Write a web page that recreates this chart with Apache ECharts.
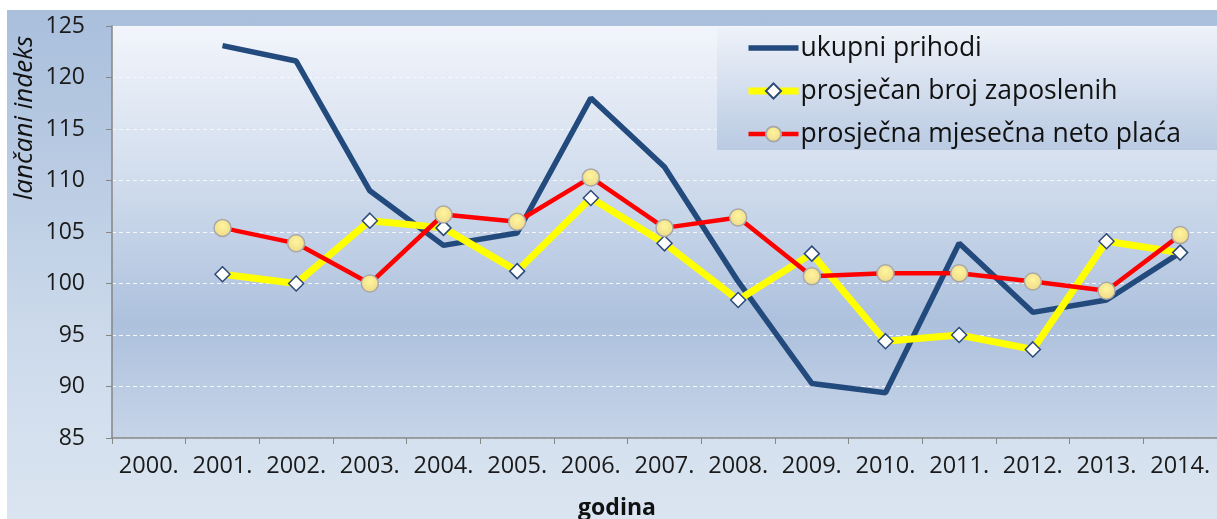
<!DOCTYPE html>
<html>
<head>
<meta charset="utf-8">
<script src="https://cdn.jsdelivr.net/npm/echarts@6/dist/echarts.min.js"></script>
<style>
  html, body { margin: 0; padding: 0; background: #fff; }
  #bg { position: absolute; left: 7px; top: 10px; width: 1210px; height: 509px;
        background: linear-gradient(180deg, #a9bfdc 0%, #bccde4 35%, #cfdcec 70%, #dbe5f1 100%); }
  #chart { position: absolute; left: 0; top: 0; width: 1217px; height: 519px; }
</style>
</head>
<body>
<div id="bg"></div>
<div id="chart"></div>
<script>
var years = ['2000.', '2001.', '2002.', '2003.', '2004.', '2005.', '2006.', '2007.',
  '2008.', '2009.', '2010.', '2011.', '2012.', '2013.', '2014.']
var ukupniPrihodi = [null, 123.1, 121.6, 109.0, 103.7, 104.9, 118.0, 111.3, 100.2, 90.3, 89.4, 103.9, 97.2, 98.4, 103.0]
var brojZaposlenih = [null, 100.9, 100.0, 106.1, 105.4, 101.2, 108.3, 103.9, 98.4, 102.9, 94.4, 95.0, 93.6, 104.1, 103.0]
var netoPlaca = [null, 105.4, 103.9, 100.0, 106.7, 106.0, 110.3, 105.4, 106.4, 100.7, 101.0, 101.0, 100.2, 99.3, 104.7]

var font = 'Open Sans'
var myChart = echarts.init(document.getElementById('chart'))
var option = {
  animation: false,
  backgroundColor: 'transparent',
  grid: {
    left: 112,
    right: 0,
    top: 26,
    bottom: 81,
    show: true,
    borderWidth: 0,
    backgroundColor: {
      type: 'linear', x: 0, y: 0, x2: 0, y2: 1,
      colorStops: [
        { offset: 0, color: '#f2f5fb' },
        { offset: 0.35, color: '#d3deee' },
        { offset: 0.72, color: '#adc1dd' },
        { offset: 1, color: '#c6d4e8' }
      ]
    }
  },
  legend: {
    orient: 'vertical',
    left: 717,
    top: 27,
    padding: [6, 80, 1, 28],
    itemWidth: 50,
    itemHeight: 19,
    itemGap: 13,
    backgroundColor: {
      type: 'linear', x: 0, y: 0, x2: 0, y2: 1,
      colorStops: [
        { offset: 0, color: '#eef2f9' },
        { offset: 1, color: '#b9cae2' }
      ]
    },
    textStyle: { fontFamily: font, fontSize: 26.5, color: '#111', lineHeight: 30, padding: [0, 0, 0, -3] },
    data: [
      { name: 'ukupni prihodi', icon: 'path://M0,0 L50,0 L50,5.5 L0,5.5 Z', itemStyle: { color: '#234a7d' } },
      { name: 'prosječan broj zaposlenih', lineStyle: { width: 7 } },
      { name: 'prosječna mjesečna neto plaća', lineStyle: { width: 4.5 } }
    ]
  },
  xAxis: {
    type: 'category',
    data: years,
    boundaryGap: true,
    axisLine: { lineStyle: { color: '#868686', width: 1.5 } },
    axisTick: { show: true, length: 6, lineStyle: { color: '#868686' } },
    axisLabel: { fontFamily: font, fontSize: 23.5, color: '#1a1a1a', margin: 16, interval: 0 }
  },
  yAxis: {
    type: 'value',
    min: 85,
    max: 125,
    interval: 5,
    axisLine: { show: true, lineStyle: { color: '#868686', width: 1.5 } },
    axisTick: { show: true, length: 6, lineStyle: { color: '#868686' } },
    axisLabel: { fontFamily: font, fontSize: 23, color: '#1a1a1a', margin: 27 },
    splitLine: { lineStyle: { color: '#f4f7fb', type: [4, 3], width: 1 } }
  },
  graphic: [
    {
      type: 'text',
      x: 25,
      y: 118,
      rotation: Math.PI / 2,
      style: {
        text: 'lančani indeks',
        font: 'italic 26px "Open Sans"',
        fill: '#111',
        align: 'center',
        verticalAlign: 'middle'
      }
    },
    {
      type: 'text',
      x: 617,
      y: 497,
      style: {
        text: 'godina',
        font: 'bold 23px "Open Sans"',
        fill: '#111',
        align: 'center',
        verticalAlign: 'top'
      }
    }
  ],
  series: [
    {
      name: 'ukupni prihodi',
      type: 'line',
      data: ukupniPrihodi,
      showSymbol: false,
      symbol: 'none',
      lineStyle: { color: '#234a7d', width: 5.5 },
      itemStyle: { color: '#234a7d' }
    },
    {
      name: 'prosječan broj zaposlenih',
      type: 'line',
      data: brojZaposlenih,
      symbol: 'diamond',
      symbolSize: 15,
      lineStyle: { color: '#ffff00', width: 7 },
      itemStyle: { color: '#ffffff', borderColor: '#2c4a78', borderWidth: 1.5 }
    },
    {
      name: 'prosječna mjesečna neto plaća',
      type: 'line',
      data: netoPlaca,
      symbol: 'circle',
      symbolSize: 17,
      lineStyle: { color: '#ff0000', width: 4.5 },
      itemStyle: {
        color: {
          type: 'radial', x: 0.5, y: 0.4, r: 0.6,
          colorStops: [
            { offset: 0, color: '#fff59c' },
            { offset: 1, color: '#eed98a' }
          ]
        },
        borderColor: '#a8a8a8',
        borderWidth: 1.5
      }
    }
  ]
}
myChart.setOption(option)
</script>
</body>
</html>
